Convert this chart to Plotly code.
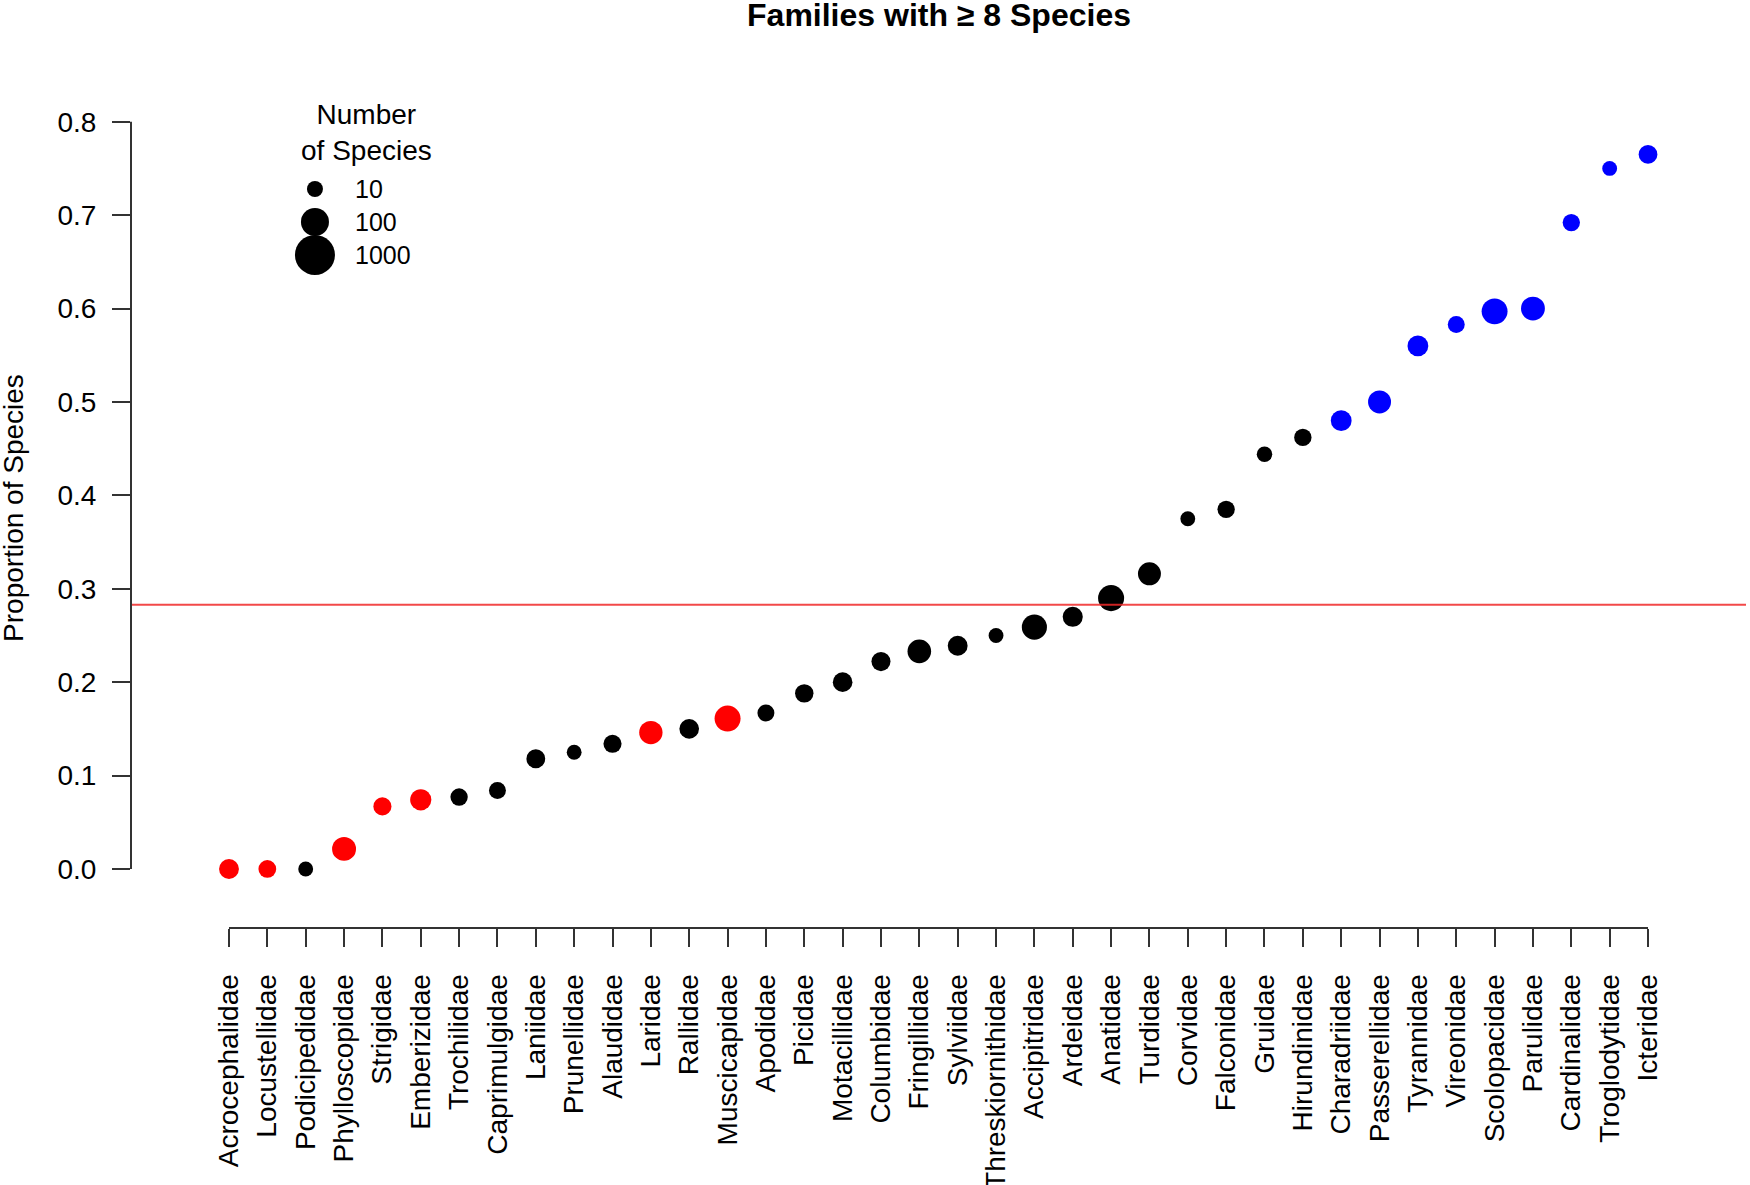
import numpy as np
import plotly.graph_objects as go

# families ordered by proportion of species
families = [
    'Acrocephalidae', 'Locustellidae', 'Podicipedidae', 'Phylloscopidae', 'Strigidae',
    'Emberizidae', 'Trochilidae', 'Caprimulgidae', 'Laniidae', 'Prunellidae',
    'Alaudidae', 'Laridae', 'Rallidae', 'Muscicapidae', 'Apodidae', 'Picidae',
    'Motacillidae', 'Columbidae', 'Fringillidae', 'Sylviidae', 'Threskiornithidae',
    'Accipitridae', 'Ardeidae', 'Anatidae', 'Turdidae', 'Corvidae', 'Falconidae',
    'Gruidae', 'Hirundinidae', 'Charadriidae', 'Passerellidae', 'Tyrannidae',
    'Vireonidae', 'Scolopacidae', 'Parulidae', 'Cardinalidae', 'Troglodytidae',
    'Icteridae',
]
proportion = [
    0.0, 0.0, 0.0, 0.0215, 0.067, 0.074, 0.077, 0.084, 0.118, 0.125,
    0.134, 0.146, 0.150, 0.161, 0.167, 0.188, 0.200, 0.222, 0.233, 0.239,
    0.250, 0.259, 0.270, 0.290, 0.316, 0.375, 0.385, 0.444, 0.462, 0.480,
    0.500, 0.560, 0.583, 0.597, 0.600, 0.692, 0.750, 0.765,
]
n_species = [
    21, 14, 8, 46, 15, 27, 13, 12, 17, 8,
    15, 41, 20, 68, 12, 16, 20, 18, 43, 21,
    8, 58, 22, 69, 38, 8, 13, 9, 13, 25,
    38, 25, 12, 67, 45, 13, 8, 17,
]
# 'low' = significantly below overall, 'high' = above, 'ns' = not different
status = [
    'low', 'low', 'ns', 'low', 'low', 'low', 'ns', 'ns', 'ns', 'ns',
    'ns', 'low', 'ns', 'low', 'ns', 'ns', 'ns', 'ns', 'ns', 'ns',
    'ns', 'ns', 'ns', 'ns', 'ns', 'ns', 'ns', 'ns', 'ns', 'high',
    'high', 'high', 'high', 'high', 'high', 'high', 'high', 'high',
]
overall = 0.283

y_ticks = [0.0, 0.1, 0.2, 0.3, 0.4, 0.5, 0.6, 0.7, 0.8]
legend_counts = [10, 100, 1000]

status_colors = {'low': '#ff0000', 'ns': '#000000', 'high': '#0000ff'}
font = 'Liberation Sans, Arial, sans-serif'
axis_col = '#333333'


def dot_size(n):
    # diameter grows with log10 of the family size
    return 4 + 12 * np.log10(np.asarray(n, dtype=float))


x = np.arange(len(families))

fig = go.Figure()

fig.add_trace(go.Scatter(
    x=x, y=proportion, mode='markers',
    marker=dict(size=dot_size(n_species), opacity=1,
                color=[status_colors[s] for s in status],
                line=dict(width=0)),
    text=families, customdata=n_species,
    hovertemplate='%{text}<br>%{y:.3f} (n=%{customdata})<extra></extra>',
    showlegend=False,
))

# size key, drawn on a hidden overlay axis in paper units
key_x = 0.1139
key_y0 = 0.8514
key_step = 33 / 868
key_y = [key_y0 - i * key_step for i in range(len(legend_counts))]
fig.add_trace(go.Scatter(
    x=[key_x] * len(legend_counts), y=key_y, mode='markers',
    marker=dict(size=dot_size(legend_counts), color='black', opacity=1, line=dict(width=0)),
    xaxis='x2', yaxis='y2', hoverinfo='skip', showlegend=False,
))
for yy, c in zip(key_y, legend_counts):
    fig.add_annotation(x=key_x + 0.0235, y=yy, xref='paper', yref='paper',
                       text=str(c), showarrow=False, xanchor='left', yanchor='middle',
                       font=dict(family=font, size=25, color='black'))
fig.add_annotation(x=0.146, y=0.917, xref='paper', yref='paper',
                   text='Number<br>of Species', showarrow=False,
                   xanchor='center', yanchor='middle', align='center',
                   font=dict(family=font, size=28, color='black'))

# overall proportion
fig.add_shape(type='line', xref='paper', yref='y', x0=0, x1=1, y0=overall, y1=overall,
              line=dict(color='rgba(240,40,40,0.85)', width=2))

# R-style axis lines that only span the ticks
fig.add_shape(type='line', xref='x', yref='paper', x0=x[0], x1=x[-1], y0=0, y1=0,
              line=dict(color=axis_col, width=2))
fig.add_shape(type='line', xref='paper', yref='y', x0=0, x1=0, y0=y_ticks[0], y1=y_ticks[-1],
              line=dict(color=axis_col, width=2))

fig.add_annotation(x=-0.0725, y=0.4839, xref='paper', yref='paper',
                   text='Proportion of Species', textangle=-90, showarrow=False,
                   xanchor='center', yanchor='middle',
                   font=dict(family=font, size=28, color='black'))

fig.update_layout(
    width=1750, height=1185,
    margin=dict(l=131, r=4, t=60, b=257, autoexpand=False),
    paper_bgcolor='white', plot_bgcolor='white',
    title=dict(text='Families with ≥ 8 Species', x=939 / 1750, xanchor='center',
               y=1 - 15 / 1185, yanchor='middle', yref='container',
               font=dict(family=font, size=32, color='black', weight='bold')),
    xaxis=dict(range=[-2.555, 39.555], tickmode='array', tickvals=x, ticktext=families,
               tickangle=-90, ticks='outside', ticklen=18, tickwidth=2, tickcolor=axis_col,
               showline=False, showgrid=False, zeroline=False, ticklabelstandoff=16,
               automargin=False,
               tickfont=dict(family=font, size=28, color='black')),
    yaxis=dict(range=[-0.0632, 0.8661], tickmode='array', tickvals=y_ticks,
               ticktext=[f'{v:.1f}' for v in y_ticks],
               ticks='outside', ticklen=18, tickwidth=2, tickcolor=axis_col,
               showline=False, showgrid=False, zeroline=False, ticklabelstandoff=10,
               automargin=False,
               tickfont=dict(family=font, size=28, color='black')),
    xaxis2=dict(range=[0, 1], overlaying='x', visible=False, fixedrange=True),
    yaxis2=dict(range=[0, 1], overlaying='y', visible=False, fixedrange=True),
)

# drop the default page margin so the figure sits at the window's corner
fig.write_html('out.html', config={'displayModeBar': False},
               post_script="document.body.style.margin='0';")
